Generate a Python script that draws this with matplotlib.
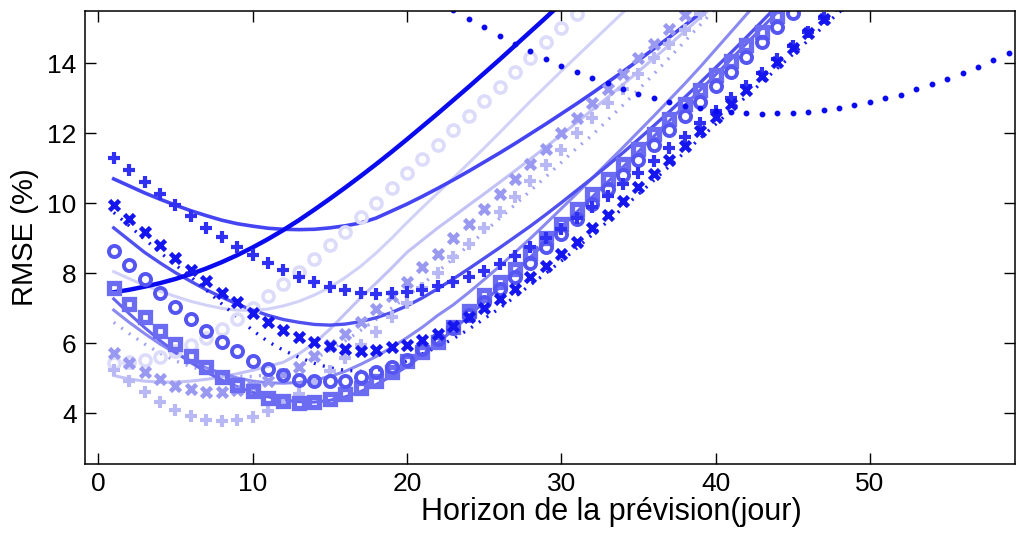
import matplotlib
matplotlib.use("Agg")
import matplotlib.pyplot as plt

# ---- data --------------------------------------------------------------
# marker series, horizon starts at day 1
plus_dark = [11.29, 10.95, 10.6, 10.27, 9.95, 9.63, 9.31, 9.03, 8.76, 8.53, 8.29, 8.1, 7.91, 7.74,
             7.62, 7.53, 7.45, 7.42, 7.44, 7.47, 7.53, 7.65, 7.76, 7.91, 8.08, 8.27, 8.51, 8.74,
             9.01, 9.27, 9.58, 9.91, 10.22, 10.55, 10.86, 11.2, 11.58, 11.91, 12.29, 12.65, 13.02,
             13.35, 13.72, 14.12, 14.51, 14.91, 15.31, 15.7]
x_dark = [9.96, 9.55, 9.17, 8.82, 8.45, 8.1, 7.77, 7.45, 7.17, 6.86, 6.6, 6.38, 6.19, 6.03, 5.91,
          5.84, 5.79, 5.81, 5.89, 5.96, 6.1, 6.27, 6.49, 6.75, 7.0, 7.27, 7.55, 7.89, 8.22, 8.55,
          8.91, 9.3, 9.68, 10.08, 10.46, 10.84, 11.24, 11.65, 12.06, 12.46, 12.84, 13.24, 13.64,
          14.04, 14.44, 14.86, 15.27, 15.68]
o_med = [8.64, 8.23, 7.84, 7.43, 7.05, 6.7, 6.36, 6.05, 5.78, 5.5, 5.27, 5.1, 4.96, 4.91, 4.91,
         4.93, 5.03, 5.17, 5.33, 5.53, 5.84, 6.13, 6.43, 6.8, 7.17, 7.55, 7.9, 8.31, 8.74, 9.13,
         9.55, 9.98, 10.41, 10.82, 11.24, 11.67, 12.1, 12.51, 12.91, 13.36, 13.77, 14.19, 14.6,
         15.03, 15.43, 15.85]
sq_med = [7.58, 7.13, 6.76, 6.34, 5.98, 5.65, 5.31, 5.05, 4.8, 4.63, 4.44, 4.34, 4.29, 4.31, 4.41,
          4.55, 4.73, 4.93, 5.17, 5.5, 5.76, 6.05, 6.46, 6.92, 7.38, 7.74, 8.13, 8.57, 9.01, 9.41,
          9.84, 10.27, 10.7, 11.13, 11.55, 11.98, 12.41, 12.84, 13.24, 13.68, 14.08, 14.53, 14.91,
          15.36, 15.8]
o_pale = [5.45, 5.48, 5.53, 5.61, 5.77, 5.95, 6.16, 6.41, 6.7, 7.0, 7.34, 7.7, 8.05, 8.41, 8.81,
          9.19, 9.62, 10.0, 10.43, 10.86, 11.27, 11.67, 12.1, 12.51, 12.92, 13.33, 13.76, 14.17,
          14.6, 15.0, 15.41, 15.85]
x_light = [5.73, 5.44, 5.19, 4.98, 4.79, 4.68, 4.62, 4.62, 4.67, 4.77, 4.93, 5.12, 5.33, 5.65,
           5.95, 6.27, 6.6, 6.98, 7.35, 7.74, 8.17, 8.55, 9.0, 9.41, 9.84, 10.27, 10.7, 11.13,
           11.55, 12.0, 12.44, 12.86, 13.27, 13.71, 14.15, 14.57, 14.98, 15.39, 15.8]
plus_light = [5.24, 4.91, 4.6, 4.33, 4.1, 3.93, 3.81, 3.77, 3.81, 3.9, 4.06, 4.28, 4.55, 4.88,
              5.22, 5.58, 5.95, 6.31, 6.74, 7.15, 7.58, 8.0, 8.46, 8.84, 9.31, 9.74, 10.17, 10.65,
              11.1, 11.53, 12.0, 12.44, 12.86, 13.28, 13.71, 14.15, 14.57, 14.95, 15.41, 15.8]
# dots only visible from day 23 on
dots_start = 23
dots_dark = [15.52, 15.26, 15.03, 14.78, 14.56, 14.35, 14.14, 13.94, 13.75, 13.58, 13.43, 13.27,
             13.13, 13.0, 12.89, 12.79, 12.72, 12.65, 12.6, 12.57, 12.56, 12.57, 12.58, 12.6,
             12.66, 12.72, 12.8, 12.89, 13.0, 13.11, 13.26, 13.41, 13.57, 13.74, 13.91, 14.11,
             14.31]

# fitted curves
fit_dark = [7.46, 7.53, 7.62, 7.72, 7.84, 7.98, 8.14, 8.32, 8.52, 8.74, 8.98, 9.24, 9.52, 9.82,
            10.13, 10.45, 10.78, 11.12, 11.47, 11.83, 12.2, 12.57, 12.95, 13.33, 13.72, 14.11,
            14.51, 14.91, 15.31, 15.72]
fit_plus = [10.7, 10.5, 10.3, 10.12, 9.95, 9.79, 9.65, 9.52, 9.42, 9.35, 9.29, 9.26, 9.25, 9.26,
            9.3, 9.36, 9.44, 9.58, 9.78, 9.98, 10.2, 10.43, 10.67, 10.92, 11.18, 11.44, 11.71,
            11.99, 12.27, 12.56, 12.85, 13.15, 13.46, 13.77, 14.09, 14.42, 14.75, 15.09, 15.43,
            15.78]
fit_x_dotted = [9.74, 9.36, 8.98, 8.6, 8.24, 7.9, 7.52, 7.13, 6.75, 6.37, 6.05, 5.8, 5.6, 5.43,
                5.3, 5.23, 5.2, 5.22, 5.32, 5.5, 5.7, 5.9, 6.13, 6.4, 6.7, 7.0, 7.33, 7.67, 8.0,
                8.35, 8.72, 9.1, 9.48, 9.87, 10.26, 10.66, 11.06, 11.46, 11.86, 12.26, 12.66,
                13.06, 13.46, 13.86, 14.26, 14.66, 15.06, 15.46, 15.86]
fit_o = [9.3, 8.95, 8.6, 8.3, 8.02, 7.77, 7.53, 7.32, 7.12, 6.95, 6.8, 6.68, 6.6, 6.54, 6.52,
         6.55, 6.62, 6.73, 6.88, 7.07, 7.3, 7.56, 7.84, 8.13, 8.43, 8.73, 9.04, 9.35, 9.68, 10.02,
         10.37, 10.72, 11.08, 11.45, 11.83, 12.22, 12.62, 13.03, 13.45, 13.88, 14.31, 14.75,
         15.2, 15.65]
fit_sq = [7.27, 6.85, 6.45, 6.08, 5.75, 5.45, 5.18, 4.95, 4.76, 4.6, 4.47, 4.38, 4.33, 4.32, 4.37,
          4.47, 4.62, 4.82, 5.06, 5.34, 5.66, 6.01, 6.39, 6.78, 7.18, 7.6, 8.03, 8.46, 8.89, 9.32,
          9.75, 10.18, 10.61, 11.04, 11.48, 11.92, 12.36, 12.8, 13.24, 13.68, 14.12, 14.57,
          15.02, 15.47, 15.92]
fit_mid = [6.95, 6.6, 6.28, 5.98, 5.72, 5.5, 5.3, 5.14, 5.01, 4.92, 4.87, 4.86, 4.88, 4.95, 5.05,
           5.2, 5.4, 5.62, 5.88, 6.16, 6.46, 6.8, 7.1, 7.45, 7.82, 8.2, 8.6, 9.0, 9.42, 9.85,
           10.28, 10.72, 11.16, 11.6, 12.05, 12.5, 12.96, 13.42, 13.9, 14.4, 14.9, 15.4, 15.9]
fit_light_dotted = [6.6, 6.28, 5.98, 5.72, 5.5, 5.33, 5.2, 5.11, 5.06, 5.05, 5.1, 5.2, 5.35,
                    5.55, 5.8, 6.07, 6.37, 6.68, 7.0, 7.34, 7.69, 8.05, 8.42, 8.8, 9.18, 9.57,
                    9.96, 10.36, 10.76, 11.17, 11.58, 11.95, 12.38, 12.81, 13.25, 13.7, 14.16,
                    14.63, 15.1, 15.58]
fit_light = [5.08, 4.98, 4.92, 4.89, 4.89, 4.92, 4.97, 5.04, 5.13, 5.23, 5.34, 5.46, 5.7, 6.0,
             6.4, 6.85, 7.3, 7.72, 8.15, 8.6, 8.95, 9.3, 9.62, 9.95, 10.27, 10.6, 10.93, 11.27,
             11.61, 11.96, 12.31, 12.67, 13.03, 13.4, 13.77, 14.15, 14.53, 14.92, 15.31, 15.7]
fit_pale = [8.05, 7.85, 7.66, 7.49, 7.34, 7.2, 7.09, 7.0, 6.95, 6.94, 6.98, 7.07, 7.2, 7.38, 7.6,
            7.88, 8.2, 8.58, 9.0, 9.45, 9.88, 10.3, 10.72, 11.15, 11.58, 12.02, 12.47, 12.92,
            13.35, 13.78, 14.2, 14.62, 15.04, 15.46, 15.9]


def days(vals, start=1):
    return list(range(start, start + len(vals)))


fig = plt.figure(figsize=(10.16, 5.36), dpi=100)
ax = fig.add_axes([85 / 1016, 1 - 464 / 536, 930 / 1016, 453 / 536])

# lines
ax.plot(days(fit_pale), fit_pale, color="#d2d2f8", lw=2.2)
ax.plot(days(fit_light), fit_light, color="#c2c2f6", lw=2.2)
ax.plot(days(fit_light_dotted), fit_light_dotted, color="#a4a4f2", lw=2.4, ls=(0, (0.6, 2.2)))
ax.plot(days(fit_mid), fit_mid, color="#8a8af2", lw=2.2)
ax.plot(days(fit_sq), fit_sq, color="#6464f0", lw=2.2)
ax.plot(days(fit_o), fit_o, color="#5050f0", lw=2.4)
ax.plot(days(fit_x_dotted), fit_x_dotted, color="#1818f0", lw=2.4, ls=(0, (0.6, 2.2)))
ax.plot(days(fit_plus), fit_plus, color="#4444f2", lw=2.6)
ax.plot(days(fit_dark), fit_dark, color="#0a0aee", lw=3.2)

# markers
ax.plot(days(o_pale), o_pale, ls="none", marker="o", mfc="none", color="#dcdcfa", ms=8, mew=2.6)
ax.plot(days(plus_light), plus_light, ls="none", marker="+", color="#b8b8f5", ms=8, mew=3.0)
ax.plot(days(x_light), x_light, ls="none", marker="x", color="#9999f2", ms=6.5, mew=3.3)
ax.plot(days(sq_med), sq_med, ls="none", marker="s", mfc="none", color="#6c6cf2", ms=7, mew=3.8)
ax.plot(days(o_med), o_med, ls="none", marker="o", mfc="none", color="#5555f2", ms=8, mew=2.8)
ax.plot(days(plus_dark), plus_dark, ls="none", marker="+", color="#3030f2", ms=8, mew=3.0)
ax.plot(days(x_dark), x_dark, ls="none", marker="x", color="#1515f0", ms=6.5, mew=3.3)
ax.plot(days(dots_dark, dots_start), dots_dark, marker="o", ls="none", ms=3.2, color="#0a0aee")

ax.set_xlim(-0.86, 59.4)
ax.set_ylim(2.55, 15.5)
ax.set_xticks([0, 10, 20, 30, 40, 50])
ax.set_yticks([4, 6, 8, 10, 12, 14])
ax.tick_params(direction="in", length=8, width=1, top=True, right=True, labelsize=19, pad=6)
for lab in ax.get_xticklabels() + ax.get_yticklabels():
    lab.set_fontfamily("Liberation Sans")
for s in ax.spines.values():
    s.set_linewidth(1.1)

ax.set_xlabel("Horizon de la prévision(jour)", fontsize=22, fontfamily="Liberation Sans")
ax.xaxis.set_label_coords(0.566, -0.072)
ax.set_ylabel("RMSE (%)", fontsize=21, fontfamily="Liberation Sans")
ax.yaxis.set_label_coords(-0.049, 0.5)

fig.savefig("out.png", dpi=100)
